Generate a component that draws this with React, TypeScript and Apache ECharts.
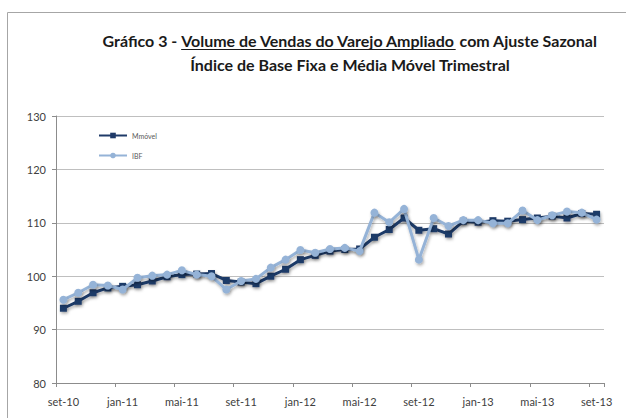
import React, { useEffect, useRef } from "react";
import * as echarts from "echarts";

const categories = [
  "set-10", "out-10", "nov-10", "dez-10", "jan-11", "fev-11", "mar-11", "abr-11", "mai-11", "jun-11", "jul-11", "ago-11",
  "set-11", "out-11", "nov-11", "dez-11", "jan-12", "fev-12", "mar-12", "abr-12", "mai-12", "jun-12", "jul-12", "ago-12",
  "set-12", "out-12", "nov-12", "dez-12", "jan-13", "fev-13", "mar-13", "abr-13", "mai-13", "jun-13", "jul-13", "ago-13",
  "set-13",
];

const mmovel = [
  94.0, 95.3, 96.9, 97.8, 98.1, 98.4, 99.1, 99.9, 100.3, 100.4, 100.5, 99.2,
  98.9, 98.6, 100.0, 101.3, 103.1, 103.9, 104.7, 105.0, 105.1, 107.3, 108.75, 110.9,
  108.6, 108.9, 107.9, 110.3, 110.1, 110.4, 110.3, 110.6, 110.9, 111.25, 110.9, 111.75,
  111.6,
];

const ibf = [
  95.6, 96.9, 98.4, 98.25, 97.5, 99.7, 100.1, 100.3, 101.1, 100.3, 100.0, 97.5,
  99.1, 99.5, 101.6, 103.1, 104.9, 104.4, 105.1, 105.3, 104.7, 111.9, 110.1, 112.6,
  103.1, 110.9, 109.4, 110.5, 110.5, 109.9, 109.9, 112.3, 110.5, 111.4, 112.1, 111.9,
  110.6,
];

const titlePart1 = "Gráfico 3 - ";
const titlePart2 = "Volume de Vendas do Varejo Ampliado";
const titlePart3 = " com Ajuste Sazonal";
const titleLine2 = "Índice de Base Fixa e Média Móvel Trimestral";

const FONT = "Lato, 'Open Sans', sans-serif";
const TITLE_SIZE = 16;

function measure(text: string, font: string): number {
  const c = document.createElement("canvas");
  const ctx = c.getContext("2d");
  if (!ctx) return text.length * 8;
  ctx.font = font;
  return ctx.measureText(text).width;
}

export default function App() {
  const ref = useRef<HTMLDivElement>(null);
  useEffect(() => {
    if (!ref.current) return;
    const chart = echarts.init(ref.current, undefined, { renderer: "svg" });
    const tfont = `bold ${TITLE_SIZE}px Lato`;
    const w1 = measure(titlePart1, tfont);
    const w2 = measure(titlePart2, tfont);
    const w3 = measure(titlePart3, tfont);
    const cx = 350;
    const x0 = cx - (w1 + w2 + w3) / 2;
    const y1 = 40;
    const titleStyle = {
      fontFamily: FONT,
      fontWeight: "bold",
      fontSize: TITLE_SIZE,
      fill: "#1a1a1a",
      textVerticalAlign: "middle",
    };
    const shadow = {
      shadowBlur: 3,
      shadowOffsetX: 1,
      shadowOffsetY: 2,
      shadowColor: "rgba(0,0,0,0.3)",
    };
    chart.setOption({
      animation: false,
      backgroundColor: "#ffffff",
      graphic: [
        {
          type: "rect",
          shape: { x: 7.5, y: 12.5, width: 700, height: 500 },
          style: { fill: "none", stroke: "#a6a6a6", lineWidth: 1 },
          silent: true,
        },
        { type: "text", x: x0, y: y1, style: { ...titleStyle, text: titlePart1, textAlign: "left" } },
        { type: "text", x: x0 + w1, y: y1, style: { ...titleStyle, text: titlePart2, textAlign: "left" } },
        { type: "text", x: x0 + w1 + w2, y: y1, style: { ...titleStyle, text: titlePart3, textAlign: "left" } },
        {
          type: "line",
          shape: { x1: x0 + w1, y1: y1 + 9.5, x2: x0 + w1 + w2, y2: y1 + 9.5 },
          style: { stroke: "#1a1a1a", lineWidth: 1 },
        },
        { type: "text", x: cx, y: 64, style: { ...titleStyle, text: titleLine2, textAlign: "center" } },
      ],
      legend: {
        orient: "vertical",
        left: 93,
        top: 127,
        itemGap: 13,
        itemWidth: 28,
        itemHeight: 7,
        textStyle: { fontSize: 7, color: "#595959", fontFamily: FONT },
        data: ["Mmóvel", "IBF"],
      },
      grid: { left: 56, right: 22, top: 116, bottom: 35, containLabel: false },
      xAxis: {
        type: "category",
        data: categories,
        boundaryGap: true,
        axisLine: { lineStyle: { color: "#8c8c8c", width: 1 } },
        axisTick: { show: true, interval: 3, length: 4, inside: false, lineStyle: { color: "#8c8c8c" } },
        axisLabel: { interval: 3, color: "#404040", fontSize: 11, fontFamily: FONT, margin: 13 },
        splitLine: { show: false },
      },
      yAxis: {
        type: "value",
        min: 80,
        max: 130,
        interval: 10,
        axisLine: { show: true, lineStyle: { color: "#8c8c8c", width: 1 } },
        axisTick: { show: true, length: 4, lineStyle: { color: "#8c8c8c" } },
        axisLabel: { color: "#404040", fontSize: 11, fontFamily: FONT, margin: 10 },
        splitLine: { lineStyle: { color: "#bfbfbf", width: 1 } },
      },
      series: [
        {
          name: "Mmóvel",
          type: "line",
          data: mmovel,
          symbol: "rect",
          symbolSize: 7,
          lineStyle: { color: "#1f3a68", width: 3, ...shadow },
          itemStyle: { color: "#1f3a68", ...shadow },
          z: 2,
        },
        {
          name: "IBF",
          type: "line",
          data: ibf,
          symbol: "circle",
          symbolSize: 8,
          lineStyle: { color: "#95b3d7", width: 3, ...shadow },
          itemStyle: { color: "#95b3d7", ...shadow },
          z: 3,
        },
      ],
    });
    return () => chart.dispose();
  }, []);
  return <div ref={ref} style={{ width: 626, height: 418, position: "absolute", left: 0, top: 0 }} />;
}
